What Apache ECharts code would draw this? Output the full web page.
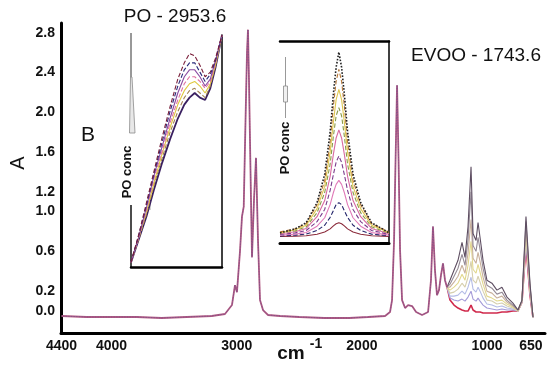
<!DOCTYPE html>
<html>
<head>
<meta charset="utf-8">
<title>FTIR spectra</title>
<script src="https://cdn.jsdelivr.net/npm/echarts@6/dist/echarts.min.js"></script>
<style>
html, body { margin:0; padding:0; background:#fff; }
#chart { width:554px; height:368px; }
</style>
</head>
<body>
<div id="chart"></div>
<script>
// main spectrum, same for every PO concentration (cm-1 / A)
var wnMain = [4400, 4200, 4000, 3800, 3600, 3400, 3200, 3094, 3038, 3014, 2998, 2974, 2958, 2944, 2930, 2918, 2910, 2902, 2886, 2878, 2862, 2846, 2830, 2814, 2790, 2750, 2654,
    2500, 2300, 2100, 1950, 1815, 1775, 1759, 1743, 1731, 1719, 1707, 1695, 1679, 1655, 1631, 1599, 1567, 1519, 1471, 1448, 1432, 1416, 1400, 1384, 1368, 1352, 1336, 1320];
var absMain = [-0.05, -0.06, -0.06, -0.06, -0.07, -0.06, -0.05, -0.03, 0.06, 0.26, 0.19, 0.60, 0.95, 1.05, 1.90, 2.60, 2.83, 2.32, 1.12, 0.54, 1.12, 1.54, 0.71, 0.11, 0.01, -0.04, -0.05,
    -0.06, -0.07, -0.07, -0.06, -0.05, -0.01, 0.11, 0.71, 1.52, 2.27, 1.52, 0.61, 0.11, 0.03, 0.06, 0.05, -0.01, -0.04, -0.01, 0.31, 0.85, 0.41, 0.16, 0.21, 0.36, 0.48, 0.31, 0.24];

// fingerprint region, one curve per PO concentration (highest first)
var wnFinger = [1296, 1264, 1232, 1200, 1176, 1152, 1128, 1112, 1088, 1072, 1056, 1032, 1001, 961, 921, 881, 841, 793, 753, 721, 689, 657, 633];
var absFinger1 = [0.31, 0.41, 0.51, 0.69, 0.54, 0.85, 1.45, 0.78, 0.71, 0.89, 0.74, 0.51, 0.31, 0.28, 0.21, 0.24, 0.14, 0.08, 0.01, 0.11, 0.95, 0.28, -0.06];
var absFinger2 = [0.27, 0.35, 0.43, 0.57, 0.46, 0.72, 1.20, 0.66, 0.60, 0.74, 0.62, 0.43, 0.26, 0.23, 0.17, 0.19, 0.11, 0.06, 0.01, 0.10, 0.90, 0.26, -0.06];
var absFinger3 = [0.24, 0.29, 0.35, 0.46, 0.38, 0.58, 0.92, 0.53, 0.48, 0.59, 0.50, 0.34, 0.20, 0.18, 0.13, 0.15, 0.09, 0.05, 0.01, 0.10, 0.85, 0.24, -0.06];
var absFinger4 = [0.21, 0.24, 0.28, 0.37, 0.31, 0.46, 0.70, 0.42, 0.38, 0.47, 0.39, 0.27, 0.15, 0.13, 0.10, 0.11, 0.07, 0.04, 0.00, 0.10, 0.81, 0.22, -0.06];
var absFinger5 = [0.18, 0.19, 0.22, 0.28, 0.24, 0.34, 0.50, 0.31, 0.28, 0.35, 0.29, 0.20, 0.11, 0.10, 0.07, 0.08, 0.05, 0.03, 0.00, 0.09, 0.77, 0.21, -0.07];
var absFinger6 = [0.15, 0.15, 0.16, 0.20, 0.17, 0.24, 0.34, 0.22, 0.19, 0.24, 0.20, 0.13, 0.07, 0.06, 0.04, 0.05, 0.03, 0.02, 0.00, 0.09, 0.74, 0.19, -0.07];
var absFinger7 = [0.13, 0.11, 0.10, 0.12, 0.10, 0.14, 0.20, 0.12, 0.10, 0.13, 0.10, 0.06, 0.03, 0.02, 0.01, 0.02, 0.01, 0.01, 0.00, 0.09, 0.70, 0.18, -0.07];
var absFinger8 = [0.11, 0.06, 0.03, 0.01, 0.00, 0.00, 0.06, 0.01, -0.01, -0.01, -0.01, -0.02, -0.02, -0.02, -0.02, -0.01, -0.01, 0.00, 0.00, 0.09, 0.66, 0.16, -0.07];

var xTicks = [4400, 4000, 3000, 2000, 1000, 650];
var yTicks = [0, 0.2, 0.6, 1.0, 1.2, 1.6, 2.0, 2.4, 2.8];

// inset PO - 2953.6 (relative absorbance)
var wnPO = [3000, 2994, 2988, 2982, 2976, 2970, 2964, 2959, 2955, 2951, 2947, 2943, 2939, 2935, 2930];
var po1 = [2, 14, 28, 42, 56, 69, 81, 88, 92, 91, 87, 82, 84, 90, 100];
var po2 = [2, 14, 27, 41, 54, 67, 78, 85, 88, 88, 84, 80, 83, 89, 100];
var po3 = [2, 13, 26, 40, 52, 64, 75, 82, 85, 85, 82, 78, 81, 89, 100];
var po4 = [2, 13, 25, 39, 50, 62, 72, 79, 82, 82, 80, 77, 80, 88, 100];
var po5 = [2, 13, 24, 37, 49, 60, 70, 76, 79, 80, 78, 75, 79, 87, 100];
var po6 = [2, 12, 23, 36, 47, 58, 67, 73, 76, 77, 75, 73, 78, 87, 100];
var po7 = [2, 12, 22, 34, 45, 55, 64, 70, 73, 75, 73, 72, 77, 86, 100];

// inset EVOO - 1743.6 (relative absorbance)
var wnEV = [1795, 1781, 1771, 1761, 1754, 1749, 1746, 1743.5, 1741, 1738.5, 1736, 1733, 1728, 1721, 1711, 1701, 1695];
var ev1 = [5, 7, 10, 20, 34, 55, 74, 87, 94.5, 87, 74, 55, 34, 20, 10, 7, 5];
var ev2 = [5.5, 7, 9.6, 19, 31, 50, 68, 80, 86, 80, 68, 50, 31, 19, 9.6, 7, 5.5];
var ev3 = [5, 6.6, 8.8, 17, 28, 45, 60, 71, 76, 71, 60, 45, 28, 17, 8.8, 6.6, 5];
var ev4 = [5, 6, 8, 15, 25, 39, 53, 63, 67, 63, 53, 39, 25, 15, 8, 6, 5];
var ev5 = [4.6, 5.6, 7.2, 13, 21, 33, 44, 52, 56, 52, 44, 33, 21, 13, 7.2, 5.6, 4.6];
var ev6 = [4.2, 5, 6.2, 10.6, 16.6, 26, 34, 40, 43, 40, 34, 26, 16.6, 10.6, 6.2, 5, 4.2];
var ev7 = [3.8, 4.4, 5.2, 8.3, 12.5, 19, 25, 29, 31, 29, 25, 19, 12.5, 8.3, 5.2, 4.4, 3.8];
var ev8 = [3.5, 3.9, 4.4, 6.2, 8.8, 12.7, 16, 19, 20, 19, 16, 12.7, 8.8, 6.2, 4.4, 3.9, 3.5];
var ev9 = [3.2, 3.4, 3.6, 4.3, 5.4, 7, 8.5, 9.5, 10, 9.5, 8.5, 7, 5.4, 4.3, 3.6, 3.4, 3.2];

var FONT = "'Liberation Sans', Arial, sans-serif";

function pairs(xs, ys){
    var out = [];
    for (var i = 0; i < xs.length; i++){
        out.push([xs[i], ys[i]]);
    }
    return out;
}

function lineSeries(data, color, width, type, xi, yi){
    return {
        type: 'line',
        xAxisIndex: xi,
        yAxisIndex: yi,
        data: data,
        showSymbol: false,
        symbol: 'none',
        silent: true,
        lineStyle: { color: color, width: width, type: type || 'solid' }
    };
}

function hiddenAxis(grid, min, max, extra){
    var a = {
        type: 'value', gridIndex: grid, min: min, max: max,
        axisLine: { show: false, onZero: false },
        axisTick: { show: false },
        axisLabel: { show: false },
        splitLine: { show: false }
    };
    for (var k in extra){ a[k] = extra[k]; }
    return a;
}

var chart;

function initChart(){
    if (chart){
        chart.dispose();
    }
    chart = echarts.init(document.getElementById('chart'), null, { renderer: 'canvas' });

    var series = [];
    var joint = [wnMain[wnMain.length - 1], absMain[absMain.length - 1]];
    var fingers = [absFinger8, absFinger7, absFinger6, absFinger5, absFinger4, absFinger3, absFinger2, absFinger1];
    var fingerColors = ['#d02a4c', '#a49ad8', '#b4bce6', '#d6cfae', '#e2d88e', '#c8b09c', '#958a96', '#5e4e62'];
    for (var i = 0; i < fingers.length; i++){
        series.push(lineSeries([joint].concat(pairs(wnFinger, fingers[i])), fingerColors[i], i === 0 ? 1.6 : 1.1, 'solid', 0, 0));
    }
    series.push(lineSeries(pairs(wnMain, absMain), '#b45a82', 1.8, 'solid', 0, 0));
    series.push(lineSeries(pairs(wnMain, absMain), '#6a4c8c', 0.8, 'dotted', 0, 0));

    var pos = [po7, po6, po5, po4, po3, po2, po1];
    var poColors = ['#3a2060', '#a08050', '#e0c840', '#e070a0', '#8a4aa0', '#2a2a7a', '#7a1f3a'];
    var poTypes = ['solid', 'dashed', 'solid', 'dashed', 'solid', 'dashed', 'dashed'];
    for (var j = 0; j < pos.length; j++){
        series.push(lineSeries(pairs(wnPO, pos[j]), poColors[j], j === 0 ? 1.8 : 1.1, poTypes[j], 1, 1));
    }

    var evs = [ev9, ev8, ev7, ev6, ev5, ev4, ev3, ev2, ev1];
    var evColors = ['#8a2a3a', '#22246a', '#e07ab8', '#7a3c8c', '#d86aa0', '#8a9a48', '#e0c850', '#b87838', '#222222'];
    var evTypes = ['solid', 'dashed', 'solid', 'dashed', 'solid', 'dashed', 'solid', 'dashed', 'dotted'];
    for (var k = 0; k < evs.length; k++){
        series.push(lineSeries(pairs(wnEV, evs[k]), evColors[k], k === 8 ? 1.6 : 1.1, evTypes[k], 2, 2));
    }

    var option = {
        animation: false,
        backgroundColor: '#fff',
        grid: [
            { left: 61, right: 9, top: 23, bottom: 35 },
            { left: 131, top: 35, width: 91, height: 232 },
            { left: 280, top: 41, width: 109, height: 202 }
        ],
        xAxis: [
            {
                type: 'value', gridIndex: 0, inverse: true, min: 537, max: 4404,
                axisLine: { show: true, onZero: false, lineStyle: { color: '#000', width: 3 } },
                axisTick: { show: false },
                splitLine: { show: false },
                axisLabel: {
                    customValues: xTicks,
                    margin: 6,
                    color: '#111', fontFamily: FONT, fontWeight: 'bold', fontSize: 14,
                    formatter: function (v) { return String(v); }
                }
            },
            hiddenAxis(1, 2930, 3000, { inverse: true, axisLine: { show: true, onZero: false, lineStyle: { color: '#000', width: 2.5 } } }),
            hiddenAxis(2, 1695, 1795, { inverse: true, axisLine: { show: true, onZero: false, lineStyle: { color: '#000', width: 3 } } }),
            hiddenAxis(2, 1695, 1795, { inverse: true, position: 'top', axisLine: { show: true, onZero: false, lineStyle: { color: '#000', width: 2.5 } } })
        ],
        yAxis: [
            {
                type: 'value', gridIndex: 0, min: -0.221, max: 2.897,
                axisLine: { show: true, onZero: false, lineStyle: { color: '#000', width: 3 } },
                axisTick: { show: false },
                splitLine: { show: false },
                axisLabel: {
                    customValues: yTicks,
                    margin: 6,
                    color: '#111', fontFamily: FONT, fontWeight: 'bold', fontSize: 14,
                    formatter: function (v) { return v.toFixed(1); }
                }
            },
            hiddenAxis(1, 0, 100, { position: 'right', axisLine: { show: true, onZero: false, lineStyle: { color: '#000', width: 1.5 } } }),
            hiddenAxis(2, 0, 100, { position: 'right', axisLine: { show: true, onZero: false, lineStyle: { color: '#000', width: 1.5 } } })
        ],
        graphic: [
            { type: 'text', x: 18, y: 163, rotation: Math.PI / 2, style: { text: 'A', font: '20px ' + FONT, fill: '#111', align: 'center', verticalAlign: 'middle' } },
            { type: 'text', x: 88, y: 135, style: { text: 'B', font: '21px ' + FONT, fill: '#111', align: 'center', verticalAlign: 'middle' } },
            { type: 'text', x: 291, y: 354, style: { text: 'cm', font: 'bold 19px ' + FONT, fill: '#111', align: 'center', verticalAlign: 'middle' } },
            { type: 'text', x: 316, y: 344, style: { text: '-1', font: 'bold 14px ' + FONT, fill: '#111', align: 'center', verticalAlign: 'middle' } },
            { type: 'text', x: 175, y: 17, style: { text: 'PO - 2953.6', font: '19px ' + FONT, fill: '#111', align: 'center', verticalAlign: 'middle' } },
            { type: 'text', x: 476, y: 56, style: { text: 'EVOO - 1743.6', font: '19px ' + FONT, fill: '#111', align: 'center', verticalAlign: 'middle' } },

            // inset PO: broken left frame, concentration wedge and label
            { type: 'line', shape: { x1: 131, y1: 33, x2: 131, y2: 77 }, style: { stroke: '#333', lineWidth: 1 } },
            { type: 'polygon', shape: { points: [[130.5, 77], [132, 77], [135, 133], [129.5, 133]] }, style: { fill: '#e8e8e8', stroke: '#8a8a8a', lineWidth: 0.8 } },
            { type: 'line', shape: { x1: 131, y1: 205, x2: 131, y2: 267 }, style: { stroke: '#111', lineWidth: 1.5 } },
            { type: 'line', shape: { x1: 150, y1: 194, x2: 150, y2: 210 }, style: { stroke: '#aaa', lineWidth: 1 } },
            { type: 'text', x: 127, y: 172, rotation: Math.PI / 2, style: { text: 'PO conc', font: 'bold 13px ' + FONT, fill: '#111', align: 'center', verticalAlign: 'middle' } },

            // inset EVOO: wedge and label
            { type: 'line', shape: { x1: 285.5, y1: 57, x2: 285.5, y2: 118 }, style: { stroke: '#999', lineWidth: 1 } },
            { type: 'rect', shape: { x: 283.5, y: 86, width: 4, height: 16 }, style: { fill: '#f0f0f0', stroke: '#888', lineWidth: 0.8 } },
            { type: 'text', x: 285, y: 148, rotation: Math.PI / 2, style: { text: 'PO conc', font: 'bold 13px ' + FONT, fill: '#111', align: 'center', verticalAlign: 'middle' } }
        ],
        series: series
    };

    chart.setOption(option);
}

initChart();
</script>
</body>
</html>
